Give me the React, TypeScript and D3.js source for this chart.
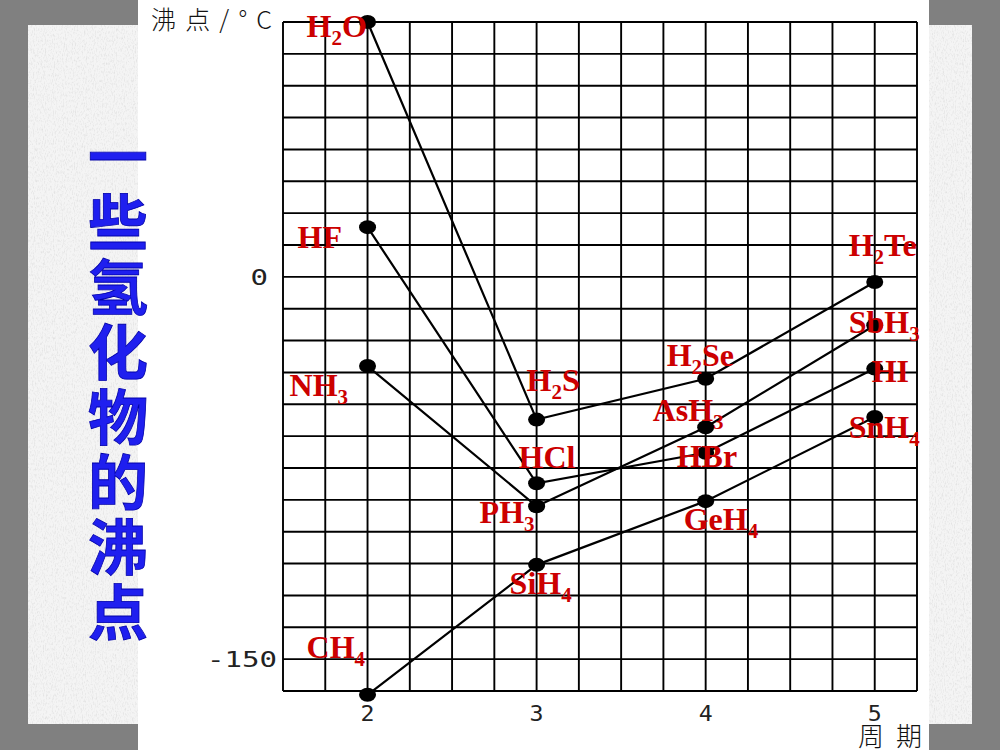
import { useEffect, useRef } from 'react';
import * as d3 from 'd3';

// Periods on the x axis
const periods = [2, 3, 4, 5];

// Boiling points (°C) per group, ordered by period 2..5
const group14Names = ['CH4', 'SiH4', 'GeH4', 'SnH4'];
const group14Values = [-164, -113, -88, -55];
const group15Names = ['NH3', 'PH3', 'AsH3', 'SbH3'];
const group15Values = [-35, -90, -59, -19];
const group16Names = ['H2O', 'H2S', 'H2Se', 'H2Te'];
const group16Values = [100, -56, -40, -2];
const group17Names = ['HF', 'HCl', 'HBr', 'HI'];
const group17Values = [19.5, -81, -69, -36];

const yTickValues = [0, -150];
const yTickLabels = ['0', '-150'];
const xTickLabels = ['2', '3', '4', '5'];
const titleText = '一些氢化物的沸点';
const yAxisTitle = '沸点/°C';
const xAxisTitle = '周期';

// label placement relative to each point (left edge, baseline)
const labelOffsets: Record<string, [number, number]> = {
  H2O: [-61, 15], HF: [-70, 21], NH3: [-78, 30], CH4: [-61, -37],
  H2S: [-10, -29], HCl: [-18, -15], PH3: [-57, 17], SiH4: [-27, 29],
  H2Se: [-39, -13], AsH3: [-53, -6], HBr: [-29, 14], GeH4: [-22, 29],
  H2Te: [-26, -26], SbH3: [-26, 8], HI: [-3, 13], SnH4: [-26, 21],
};

const W = 1000;
const H = 750;

export default function App() {
  const containerRef = useRef<HTMLDivElement>(null);

  useEffect(() => {
    if (!containerRef.current) return;
    d3.select(containerRef.current).selectAll('*').remove();

    const svg = d3.select(containerRef.current)
      .append('svg')
      .attr('width', W)
      .attr('height', H)
      .style('display', 'block');

    // paper texture
    const defs = svg.append('defs');
    const paper = defs.append('filter').attr('id', 'paper')
      .attr('x', 0).attr('y', 0).attr('width', 1).attr('height', 1);
    paper.append('feTurbulence')
      .attr('type', 'fractalNoise')
      .attr('baseFrequency', '0.9 0.35')
      .attr('numOctaves', 3)
      .attr('seed', 4);
    paper.append('feColorMatrix')
      .attr('type', 'matrix')
      .attr('values', '0 0 0 0 0.55  0 0 0 0 0.55  0 0 0 0 0.55  0.9 0 0 0 -0.42');

    // --- BACKGROUND ---
    svg.append('rect').attr('width', W).attr('height', H).attr('fill', '#808080');
    svg.append('rect').attr('x', 28).attr('y', 25).attr('width', 944).attr('height', 699).attr('fill', '#f4f4f4');
    svg.append('rect').attr('x', 28).attr('y', 25).attr('width', 944).attr('height', 699)
      .attr('fill', '#fff').attr('filter', 'url(#paper)');
    svg.append('rect').attr('x', 138).attr('y', 0).attr('width', 791).attr('height', H).attr('fill', '#fff');

    // --- SCALES ---
    const x = d3.scaleLinear().domain([1.5, 5.25]).range([283, 917]);
    const y = d3.scaleLinear().domain([-162.5, 100]).range([691, 22]);

    // --- GRID ---
    const grid = svg.append('g').attr('stroke', '#000').attr('stroke-width', 1.9);
    d3.range(16).map(i => 1.5 + i * 0.25).forEach(v => {
      grid.append('line')
        .attr('x1', x(v)).attr('x2', x(v))
        .attr('y1', y(-162.5)).attr('y2', y(100));
    });
    d3.range(22).map(i => -162.5 + i * 12.5).forEach(v => {
      grid.append('line')
        .attr('x1', x(1.5)).attr('x2', x(5.25))
        .attr('y1', y(v)).attr('y2', y(v));
    });

    // --- AXIS LABELS ---
    const tickFont = "'DejaVu Sans Mono', monospace";
    yTickValues.forEach((v, i) => {
      const label = yTickLabels[i];
      svg.append('text')
        .attr('x', v === 0 ? 268 : 277).attr('y', y(v) + 8)
        .attr('text-anchor', 'end')
        .attr('font-family', tickFont).attr('font-size', 22)
        .attr('fill', '#222')
        .attr('textLength', label.length * 17.5)
        .attr('lengthAdjust', 'spacingAndGlyphs')
        .text(label);
    });
    periods.forEach((p, i) => {
      svg.append('text')
        .attr('x', x(p)).attr('y', 721)
        .attr('text-anchor', 'middle')
        .attr('font-family', tickFont).attr('font-size', 21)
        .attr('fill', '#222')
        .attr('textLength', 14)
        .attr('lengthAdjust', 'spacingAndGlyphs')
        .text(xTickLabels[i]);
    });
    svg.append('text')
      .attr('x', 151).attr('y', 29)
      .attr('font-family', "'Noto Sans CJK SC', sans-serif").attr('font-size', 25)
      .attr('font-weight', 300).attr('fill', '#111')
      .attr('textLength', 121).attr('lengthAdjust', 'spacing')
      .text(yAxisTitle);
    svg.append('text')
      .attr('x', 858).attr('y', 746)
      .attr('font-family', "'Noto Sans CJK SC', sans-serif").attr('font-size', 26)
      .attr('font-weight', 300).attr('fill', '#111')
      .attr('textLength', 64).attr('lengthAdjust', 'spacing')
      .text(xAxisTitle);

    // --- SERIES ---
    const series = [
      { names: group16Names, values: group16Values },
      { names: group17Names, values: group17Values },
      { names: group15Names, values: group15Values },
      { names: group14Names, values: group14Values },
    ];
    const line = d3.line<number>()
      .x((_, i) => x(periods[i]))
      .y(d => y(d));

    series.forEach(s => {
      svg.append('path')
        .datum(s.values)
        .attr('d', line)
        .attr('fill', 'none')
        .attr('stroke', '#000')
        .attr('stroke-width', 2.2);
    });
    series.forEach(s => {
      s.values.forEach((v, i) => {
        svg.append('ellipse')
          .attr('cx', x(periods[i])).attr('cy', y(v))
          .attr('rx', 8.5).attr('ry', 7)
          .attr('fill', '#000');
      });
    });

    // --- FORMULA LABELS ---
    series.forEach(s => {
      s.values.forEach((v, i) => {
        const name = s.names[i];
        const [dx, dy] = labelOffsets[name];
        const t = svg.append('text')
          .attr('x', x(periods[i]) + dx)
          .attr('y', y(v) + dy)
          .attr('font-family', "'Liberation Serif', 'Times New Roman', serif")
          .attr('font-weight', 'bold')
          .attr('font-size', 32)
          .attr('fill', '#cc0000');
        let shifted = false;
        name.split(/(\d+)/).filter(p => p.length).forEach(part => {
          if (/^\d+$/.test(part)) {
            t.append('tspan').attr('font-size', 21).attr('dy', 8).text(part);
            shifted = true;
          } else {
            t.append('tspan').attr('dy', shifted ? -8 : 0).text(part);
            shifted = false;
          }
        });
      });
    });

    // --- VERTICAL TITLE ---
    svg.append('text')
      .attr('x', 118).attr('y', 127)
      .attr('writing-mode', 'vertical-rl')
      .style('writing-mode', 'vertical-rl')
      .attr('letter-spacing', 5)
      .attr('font-family', "'Noto Sans CJK SC', sans-serif")
      .attr('font-weight', 'bold')
      .attr('font-size', 60)
      .attr('fill', '#1f1fef')
      .attr('stroke', '#0000a8')
      .attr('stroke-width', 0.8)
      .text(titleText);
  }, []);

  return (
    <div
      ref={containerRef}
      style={{ position: 'absolute', left: 0, top: 0, width: W, height: H }}
    />
  );
}
